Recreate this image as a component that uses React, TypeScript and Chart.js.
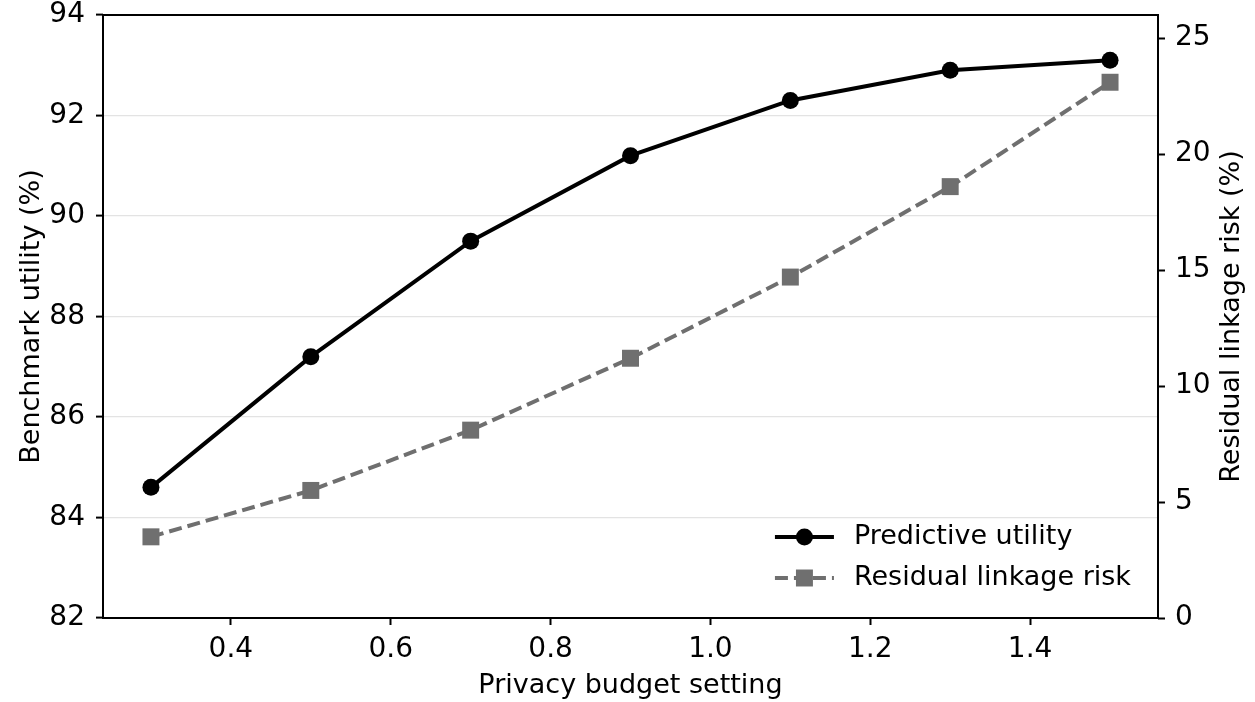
import React, { useEffect, useRef } from "react";
import { Chart, registerables } from "chart.js";

Chart.register(...registerables);

const budgets = [0.3, 0.5, 0.7, 0.9, 1.1, 1.3, 1.5];
const utility = [84.6, 87.2, 89.5, 91.2, 92.3, 92.9, 93.1];
const linkageRisk = [3.5, 5.5, 8.1, 11.2, 14.7, 18.6, 23.1];
const xTicks = [0.4, 0.6, 0.8, 1.0, 1.2, 1.4];
const leftTicks = [82, 84, 86, 88, 90, 92, 94];
const rightTicks = [0, 5, 10, 15, 20, 25];

const xTitle = "Privacy budget setting";
const leftTitle = "Benchmark utility (%)";
const rightTitle = "Residual linkage risk (%)";
const utilityLabel = "Predictive utility";
const riskLabel = "Residual linkage risk";

const FONT = "DejaVu Sans";
const FS = 27;
const TFS = 28;
const GRAY = "#6f6f6f";

function zeroPad(s: any) {
  s.paddingTop = 0;
  s.paddingBottom = 0;
  s.paddingLeft = 0;
  s.paddingRight = 0;
}

export default function App() {
  const ref = useRef<HTMLCanvasElement | null>(null);

  useEffect(() => {
    if (!ref.current) return;

    const framePlugin = {
      id: "frameAndExtras",
      afterDraw(chart: any) {
        const { ctx, chartArea } = chart;
        const { left, right, top, bottom } = chartArea;
        ctx.save();
        ctx.strokeStyle = "#000";
        ctx.lineWidth = 2;
        ctx.strokeRect(left, top, right - left, bottom - top);

        ctx.fillStyle = "#000";
        ctx.font = `${FS}px "${FONT}"`;
        ctx.textAlign = "center";
        ctx.textBaseline = "middle";
        ctx.translate(1232, (top + bottom) / 2);
        ctx.rotate(-Math.PI / 2);
        ctx.fillText(rightTitle, 0, 0);
        ctx.restore();

        ctx.save();
        ctx.font = `${FS}px "${FONT}"`;
        const ds = chart.data.datasets;
        const maxW = Math.max(...ds.map((d: any) => ctx.measureText(d.label).width));
        const textX = right - 27 - maxW;
        const lineStart = textX - 79;
        const lineEnd = textX - 20;
        const mid = (lineStart + lineEnd) / 2;
        const rowYs = [bottom - 81, bottom - 40];
        ds.forEach((d: any, i: number) => {
          const y = rowYs[i];
          ctx.strokeStyle = d.borderColor;
          ctx.lineWidth = d.borderWidth;
          ctx.setLineDash(d.borderDash || []);
          ctx.beginPath();
          ctx.moveTo(lineStart, y);
          ctx.lineTo(lineEnd, y);
          ctx.stroke();
          ctx.setLineDash([]);
          ctx.fillStyle = d.pointBackgroundColor;
          if (d.pointStyle === "rect") {
            const s = d.pointRadius * Math.SQRT1_2;
            ctx.fillRect(mid - s, y - s, 2 * s, 2 * s);
          } else {
            ctx.beginPath();
            ctx.arc(mid, y, d.pointRadius, 0, Math.PI * 2);
            ctx.fill();
          }
          ctx.fillStyle = "#000";
          ctx.textAlign = "left";
          ctx.textBaseline = "middle";
          ctx.fillText(d.label, textX, y);
        });
        ctx.restore();
      },
    };

    const chart = new Chart(ref.current, {
      type: "line",
      data: {
        datasets: [
          {
            label: utilityLabel,
            data: budgets.map((x, i) => ({ x, y: utility[i] })),
            yAxisID: "y",
            borderColor: "#000",
            backgroundColor: "#000",
            pointBackgroundColor: "#000",
            borderWidth: 4,
            pointRadius: 8.5,
            pointBorderWidth: 0,
            pointStyle: "circle",
            tension: 0,
          } as any,
          {
            label: riskLabel,
            data: budgets.map((x, i) => ({ x, y: linkageRisk[i] })),
            yAxisID: "y1",
            borderColor: GRAY,
            backgroundColor: GRAY,
            pointBackgroundColor: GRAY,
            borderWidth: 4,
            borderDash: [13, 6],
            pointRadius: 12,
            pointBorderWidth: 0,
            pointStyle: "rect",
            tension: 0,
          } as any,
        ],
      },
      options: {
        responsive: false,
        animation: false,
        layout: { padding: { top: 15, left: 0, right: 0, bottom: 0 } },
        plugins: {
          legend: { display: false },
          tooltip: { enabled: false },
        },
        scales: {
          x: {
            type: "linear",
            min: 0.24,
            max: 1.56,
            afterBuildTicks: (s: any) => {
              s.ticks = xTicks.map((v) => ({ value: v }));
            },
            afterFit: (s: any) => {
              s.height = 84;
              zeroPad(s);
            },
            ticks: {
              color: "#000",
              font: { family: FONT, size: TFS },
              padding: 8,
              maxRotation: 0,
              callback: (v: any) => Number(v).toFixed(1),
            },
            grid: {
              drawOnChartArea: false,
              tickLength: 7,
              tickColor: "#000",
              tickWidth: 2,
            },
            border: { display: false },
            title: {
              display: true,
              text: xTitle,
              color: "#000",
              font: { family: FONT, size: FS },
              padding: { top: 2, bottom: 0 },
            },
          },
          y: {
            type: "linear",
            position: "left",
            min: 82,
            max: 94,
            afterBuildTicks: (s: any) => {
              s.ticks = leftTicks.map((v) => ({ value: v }));
            },
            afterFit: (s: any) => {
              s.width = 103;
              zeroPad(s);
            },
            ticks: {
              color: "#000",
              font: { family: FONT, size: TFS },
              padding: 11,
            },
            grid: {
              color: "#e3e3e3",
              lineWidth: 1.2,
              tickLength: 7,
              tickColor: "#000",
              tickWidth: 2,
            },
            border: { display: false },
            title: {
              display: true,
              text: leftTitle,
              color: "#000",
              font: { family: FONT, size: FS },
              padding: { top: 16, bottom: 0 },
            },
          },
          y1: {
            type: "linear",
            position: "right",
            min: 0,
            max: 26,
            afterBuildTicks: (s: any) => {
              s.ticks = rightTicks.map((v) => ({ value: v }));
            },
            afterFit: (s: any) => {
              s.width = 97;
              zeroPad(s);
            },
            ticks: {
              color: "#000",
              font: { family: FONT, size: TFS },
              padding: 10,
            },
            grid: {
              drawOnChartArea: false,
              tickLength: 7,
              tickColor: "#000",
              tickWidth: 2,
            },
            border: { display: false },
          },
        },
      } as any,
      plugins: [framePlugin],
    });

    return () => chart.destroy();
  }, []);

  return (
    <div style={{ position: "absolute", left: 0, top: 0, width: 1255, height: 702, background: "#fff" }}>
      <canvas ref={ref} width={1255} height={702} style={{ width: 1255, height: 702, display: "block" }} />
    </div>
  );
}
